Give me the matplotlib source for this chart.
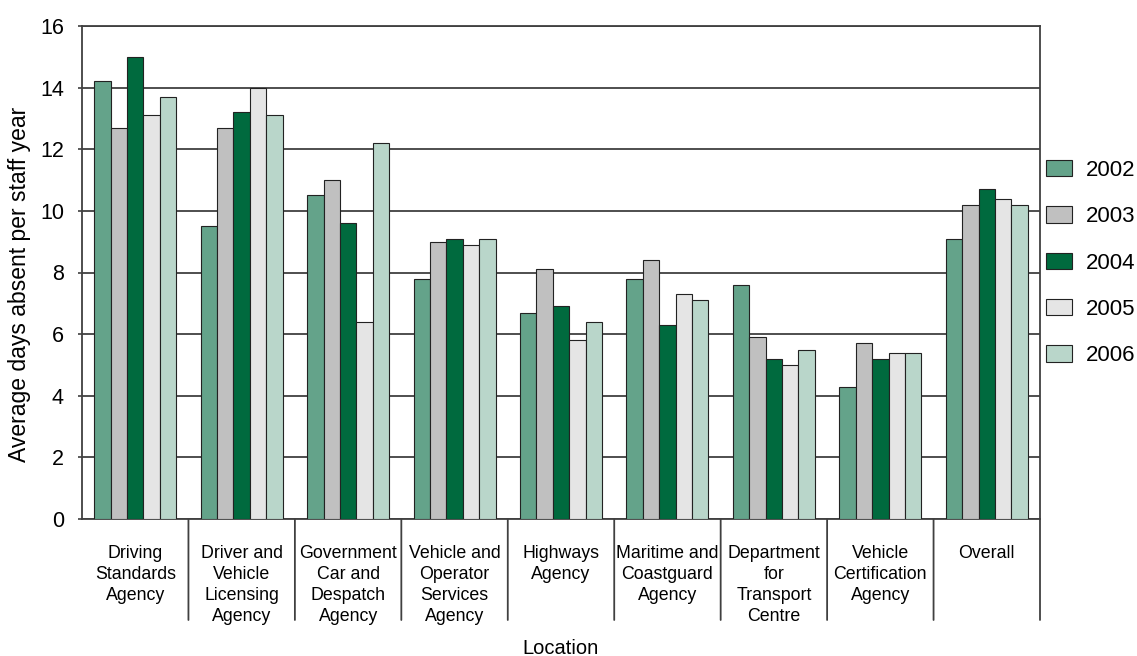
import matplotlib
matplotlib.use("Agg")
import matplotlib.pyplot as plt
import numpy as np

plt.rcParams['font.family'] = ['Liberation Sans', 'DejaVu Sans']

categories = [
    "Driving\nStandards\nAgency",
    "Driver and\nVehicle\nLicensing\nAgency",
    "Government\nCar and\nDespatch\nAgency",
    "Vehicle and\nOperator\nServices\nAgency",
    "Highways\nAgency",
    "Maritime and\nCoastguard\nAgency",
    "Department\nfor\nTransport\nCentre",
    "Vehicle\nCertification\nAgency",
    "Overall",
]
years = ["2002", "2003", "2004", "2005", "2006"]
v2002 = [14.2, 9.5, 10.5, 7.8, 6.7, 7.8, 7.6, 4.3, 9.1]
v2003 = [12.7, 12.7, 11.0, 9.0, 8.1, 8.4, 5.9, 5.7, 10.2]
v2004 = [15.0, 13.2, 9.6, 9.1, 6.9, 6.3, 5.2, 5.2, 10.7]
v2005 = [13.1, 14.0, 6.4, 8.9, 5.8, 7.3, 5.0, 5.4, 10.4]
v2006 = [13.7, 13.1, 12.2, 9.1, 6.4, 7.1, 5.5, 5.4, 10.2]
series = [v2002, v2003, v2004, v2005, v2006]
colors = ["#64a38a", "#c0c0c0", "#006a3e", "#e5e5e5", "#b9d6ca"]

fig = plt.figure(figsize=(11.37, 6.56), dpi=100)
ax = fig.add_axes([82/1137, 1 - 519/656, (1040-82)/1137, (519-26)/656])

n = len(categories)
x = np.arange(n)
bw = 0.154
for i, (vals, c, lab) in enumerate(zip(series, colors, years)):
    ax.bar(x + (i - 2) * bw, vals, width=bw, color=c, edgecolor="#222222",
           linewidth=0.8, label=lab, zorder=3)

ax.set_xlim(-0.5, n - 0.5)
ax.set_ylim(0, 16)
ax.set_yticks(np.arange(0, 17, 2))
ax.tick_params(axis='y', labelsize=15.5, length=3, width=1.2, color="#404040", pad=10)
ax.set_xticks([])
ax.yaxis.grid(True, color="#404040", linewidth=1.3, zorder=0)
ax.set_axisbelow(True)
for s in ax.spines.values():
    s.set_color("#404040")
    s.set_linewidth(1.3)

ax.set_ylabel("Average days absent per staff year", fontsize=16.5, va='center')
ax.yaxis.set_label_coords((20 - 82) / 958, (519 - 284) / 493)

# category labels and separators
for i, cat in enumerate(categories):
    ax.annotate(cat, xy=(i, 0), xycoords=('data', 'axes fraction'),
                xytext=(0, -19), textcoords='offset points',
                ha='center', va='top', fontsize=12.8, linespacing=1.3,
                annotation_clip=False)
for b in np.arange(0.5, n, 1.0):
    ax.annotate("", xy=(b, 0), xycoords=('data', 'axes fraction'),
                xytext=(b, -101/493), textcoords=('data', 'axes fraction'),
                arrowprops=dict(arrowstyle='-', color="#404040", lw=1.3,
                                shrinkA=0, shrinkB=0),
                annotation_clip=False)

fig.text(560/1137, 1 - 648/656, "Location", ha='center', va='center', fontsize=14.5)

leg = ax.legend(loc='upper left', bbox_to_anchor=(1046/1137, 1 - 160/656),
                bbox_transform=fig.transFigure, frameon=False, fontsize=16,
                handlelength=1.15, handleheight=0.75, handletextpad=0.63,
                labelspacing=1.14, borderaxespad=0, borderpad=0)

fig.savefig("out.png", dpi=100)
